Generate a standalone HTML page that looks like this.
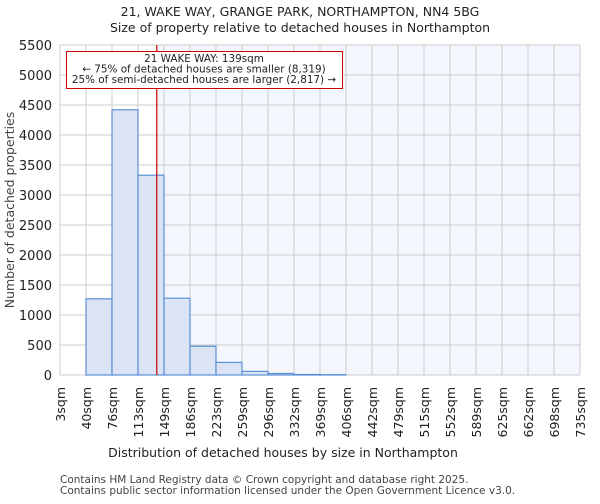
<!DOCTYPE html>
<html><head><meta charset="utf-8"><style>
body{margin:0;background:#fff;font-family:"DejaVu Sans","Liberation Sans",sans-serif}
</style></head><body>
<svg id="c" width="600" height="500" xmlns="http://www.w3.org/2000/svg" font-family="DejaVu Sans, Liberation Sans, sans-serif">
<text x="300" y="16" text-anchor="middle" font-size="12.5" fill="#222">21, WAKE WAY, GRANGE PARK, NORTHAMPTON, NN4 5BG</text>
<text x="300" y="32" text-anchor="middle" font-size="12.5" fill="#222">Size of property relative to detached houses in Northampton</text>
<g id="plot"></g>
<text x="283" y="457" text-anchor="middle" font-size="12.5" fill="#222">Distribution of detached houses by size in Northampton</text>
<text transform="translate(14,210) rotate(-90)" text-anchor="middle" font-size="12.5" fill="#444">Number of detached properties</text>
<text x="60" y="483" font-size="10.5" fill="#444">Contains HM Land Registry data © Crown copyright and database right 2025.</text>
<text x="60" y="494" font-size="10.5" fill="#444">Contains public sector information licensed under the Open Government Licence v3.0.</text>
</svg>
<script>
const binEdges=[3,40,76,113,149,186,223,259,296,332,369,406,442,479,515,552,589,625,662,698,735];
const counts=[0,1270,4420,3330,1280,480,210,60,25,8,5,0,0,0,0,0,0,0,0,0];
const yTicks=[0,500,1000,1500,2000,2500,3000,3500,4000,4500,5000,5500];
const propertySize=139;
const NS="http://www.w3.org/2000/svg";
const L=60,R=580,T=45,B=375;
const nb=counts.length;
const x=i=>L+(R-L)*i/nb;
const xv=v=>{let i=0;while(i<nb-1&&v>binEdges[i+1])i++;return x(i)+(v-binEdges[i])/(binEdges[i+1]-binEdges[i])*(R-L)/nb;};
const y=v=>B-(B-T)*v/5500;
const g=document.getElementById('plot');
function mk(t,a){const e=document.createElementNS(NS,t);for(const k in a)e.setAttribute(k,a[k]);g.appendChild(e);return e;}
const px=xv(propertySize);
let bg=mk('rect',{x:L,y:T,width:R-L,height:B-T,fill:'#ffffff'});


let sh=mk('rect',{x:px,y:T,width:R-px,height:B-T,fill:'#f3f6fd'});


yTicks.forEach(v=>{
 let l=mk('line',{x1:L,x2:R,y1:y(v),y2:y(v),stroke:'#cccccc','stroke-width':1});
 
 
 let t=mk('text',{x:L-8,y:y(v)+5,'text-anchor':'end','font-size':13,fill:'#222'});
 t.textContent=v;
 
 
});
binEdges.forEach((e,i)=>{
 let l=mk('line',{x1:x(i),x2:x(i),y1:T,y2:B,stroke:'#cccccc','stroke-width':1});
 
 
 let t=mk('text',{transform:`translate(${x(i)+5},${B+12}) rotate(-90)`,'text-anchor':'end','font-size':12.5,fill:'#222'});
 t.textContent=e+'sqm';
 
 
});
counts.forEach((c,i)=>{
 if(c<=0)return;
 let r=mk('rect',{x:x(i),y:y(c),width:(R-L)/nb,height:B-y(c),fill:'#dae4f4',stroke:'#5b8fd6','stroke-width':1.2});
 
 
});
let ml=mk('line',{x1:px,x2:px,y1:T,y2:B,stroke:'#cc0000','stroke-width':1.2});


let box=mk('rect',{x:66.5,y:51.5,width:276,height:37,fill:'#fff',stroke:'#cc0000','stroke-width':1});


["21 WAKE WAY: 139sqm","← 75% of detached houses are smaller (8,319)","25% of semi-detached houses are larger (2,817) →"].forEach((s,i)=>{
 let t=mk('text',{x:204,y:62+i*10.5,'text-anchor':'middle','font-size':10.4,fill:'#222'});
 t.textContent=s;
 
 
});
</script>
</body></html>
